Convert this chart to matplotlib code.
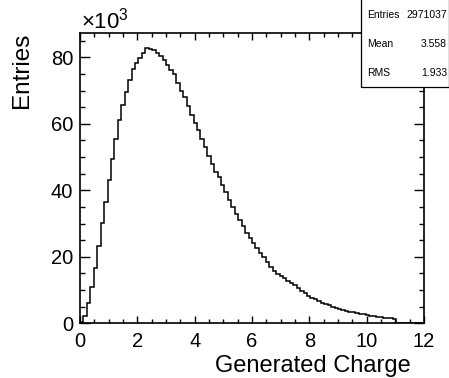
import numpy as np
import matplotlib.pyplot as plt
from matplotlib.patches import Rectangle
from matplotlib.ticker import MultipleLocator

plt.rcParams['font.family'] = ['Liberation Sans', 'DejaVu Sans']
plt.rcParams['mathtext.default'] = 'regular'

# 100 bins from 0 to 12, counts in units of 10^3
x_lo, x_hi, n_bins = 0.0, 12.0, 100
entries_k = [
    0.4, 2.3, 6.0, 10.8, 16.7, 23.3, 30.2, 36.6, 43.1, 49.4,
    55.3, 61.0, 65.5, 69.6, 73.3, 76.5, 78.2, 79.7, 81.2, 82.7,
    82.4, 82.2, 81.2, 80.5, 79.2, 77.7, 76.2, 74.9, 72.4, 69.7,
    68.0, 65.4, 62.7, 60.2, 58.1, 55.4, 53.1, 50.3, 47.9, 45.6,
    44.0, 41.6, 39.6, 37.1, 34.9, 32.9, 31.1, 29.3, 27.3, 25.6,
    24.1, 22.6, 21.0, 19.8, 18.5, 17.0, 15.8, 14.8, 14.3, 13.5,
    12.8, 12.2, 11.4, 10.5, 9.7, 9.0, 8.3, 7.7, 7.2, 6.7,
    6.2, 5.8, 5.4, 5.0, 4.7, 4.3, 4.0, 3.7, 3.5, 3.3,
    3.1, 2.9, 2.7, 2.5, 2.3, 2.1, 2.0, 1.8, 1.7, 1.6,
    1.5, 1.3, 0, 0, 0, 0, 0, 0, 0, 0,
]
stat_names = ["Entries", "Mean", "RMS"]
stat_values = ["2971037", "3.558", "1.933"]

edges = np.linspace(x_lo, x_hi, n_bins + 1)

fig = plt.figure(figsize=(4.49, 3.78), dpi=100)
ax = fig.add_axes([80 / 449, 1 - 323.3 / 378, 344 / 449, 290 / 378])

ax.stairs(entries_k, edges, color="black", lw=1.1)

ax.set_xlim(x_lo, x_hi)
ax.set_ylim(0, 87.2)
ax.xaxis.set_major_locator(MultipleLocator(2))
ax.xaxis.set_minor_locator(MultipleLocator(0.5))
ax.yaxis.set_major_locator(MultipleLocator(20))
ax.yaxis.set_minor_locator(MultipleLocator(5))
ax.tick_params(which="both", direction="in", top=True, right=True, labelsize=14.5, width=1)
ax.tick_params(axis="x", which="major", length=5, pad=6)
ax.tick_params(axis="x", which="minor", length=2.8)
ax.tick_params(axis="y", which="major", length=7.2, pad=5)
ax.tick_params(axis="y", which="minor", length=3.6)
for s in ax.spines.values():
    s.set_linewidth(1.2)

fig.text(411 / 449, 1 - 372 / 378, "Generated Charge", fontsize=17, ha="right", va="baseline")
fig.text(11 / 449, 1 - 33 / 378, "Entries", fontsize=17.5, rotation=90, ha="left", va="top")
fig.text(81 / 449, 1 - 28 / 378, r"$\times10^{3}$", fontsize=16, ha="left", va="baseline")

# stats box
box = Rectangle((361 / 449, 1 - 87.3 / 378), 87.5 / 449, 87.3 / 378 + 0.01,
                transform=fig.transFigure, facecolor="white", edgecolor="black",
                lw=0.9, zorder=10, clip_on=False)
fig.patches.append(box)
for i, (name, val) in enumerate(zip(stat_names, stat_values)):
    y = 1 - (15 + 29 * i) / 378
    fig.text(367 / 449, y, name, fontsize=7.5, ha="left", va="center", zorder=11)
    fig.text(447 / 449, y, val, fontsize=7.5, ha="right", va="center", zorder=11)

fig.savefig("out.png", dpi=100)
